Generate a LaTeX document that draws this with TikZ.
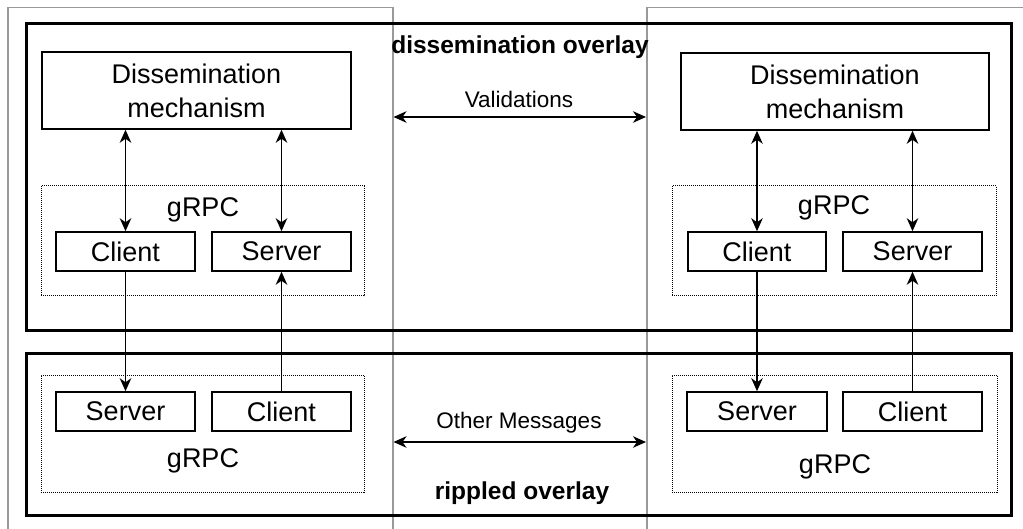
\documentclass[tikz,border=0pt]{standalone}
\usepackage{fontspec}
\setmainfont{Liberation Sans}
\usetikzlibrary{arrows.meta,calc}
\begin{document}
\begin{tikzpicture}[x=1pt,y=-1pt,
  tip/.tip={Stealth[length=13pt,width=11.5pt,inset=4pt]},
  box/.style={draw, line width=1.5pt, inner sep=0pt, align=center,
    font=\fontsize{27}{34}\selectfont},
  grpcbox/.style={draw, line width=1pt, dash pattern=on 1pt off 1pt, inner sep=0pt},
  layerbox/.style={draw, line width=3pt, inner sep=0pt, anchor=north west},
  peer/.style={draw=black!40, line width=1.5pt, inner sep=0pt, anchor=north west},
  big/.style={font=\fontsize{27}{34}\selectfont, inner sep=0pt},
  caption/.style={font=\bfseries\fontsize{24.5}{29}\selectfont, inner sep=0pt},
  msg/.style={font=\fontsize{22.5}{27}\selectfont, inner sep=0pt},
  link/.style={line width=1.5pt, -tip},
  duplex/.style={line width=1.5pt, tip-tip},
  endpoint/.style={box, minimum width=139pt, minimum height=39pt},
]
\useasboundingbox (0,0) rectangle (1023,529);

% the two peers
\node[peer, minimum width=385pt, minimum height=560pt] (peerA) at (7,7) {};
\node[peer, minimum width=420pt, minimum height=560pt] (peerB) at (646,7) {};

% the two overlays
\node[layerbox, minimum width=985pt, minimum height=307pt] (dissLayer) at (25,22) {};
\node[layerbox, minimum width=985pt, minimum height=162pt] (rippleLayer) at (25,352) {};
\node[caption] (dissCap) at (520,47) {dissemination overlay};
\node[caption] (rippleCap) at (522,493) {rippled overlay};

% peer A, dissemination overlay
\node[box, minimum width=309pt, minimum height=77pt] (mechA) at (196.5,90.5) {Dissemination\\mechanism};
\node[grpcbox, minimum width=323pt, minimum height=110pt] (grpcA) at (202.5,241) {};
\node[big] (grpcLabA) at (203,210) {gRPC};
\node[endpoint] (clientA) at (125.5,251.5) {Client};
\node[endpoint] (serverA) at (281.5,251.5) {Server};

% peer A, rippled overlay
\node[grpcbox, minimum width=323pt, minimum height=117pt] (grpcA2) at (202.5,433.5) {};
\node[big] (grpcLabA2) at (203,461) {gRPC};
\node[endpoint] (serverA2) at (125.5,411.5) {Server};
\node[endpoint] (clientA2) at (281.5,411.5) {Client};

% peer B, dissemination overlay
\node[box, minimum width=308pt, minimum height=77pt] (mechB) at (835,91.5) {Dissemination\\mechanism};
\node[grpcbox, minimum width=324pt, minimum height=110pt] (grpcB) at (834,241) {};
\node[big] (grpcLabB) at (834,208) {gRPC};
\node[endpoint, minimum width=138pt] (clientB) at (757,251.5) {Client};
\node[endpoint] (serverB) at (912.5,251.5) {Server};

% peer B, rippled overlay
\node[grpcbox, minimum width=325pt, minimum height=117pt] (grpcB2) at (834.5,433.5) {};
\node[big] (grpcLabB2) at (835,467) {gRPC};
\node[endpoint, minimum width=140pt] (serverB2) at (757,411.5) {Server};
\node[endpoint] (clientB2) at (912.5,411.5) {Client};

% links inside each peer
\draw[duplex] (mechA.south -| clientA) -- (clientA.north);
\draw[duplex] (mechA.south -| serverA) -- (serverA.north);
\draw[link] (clientA.south) -- (serverA2.north);
\draw[link] (clientA2.north) -- (serverA.south);

\draw[duplex] (mechB.south -| clientB) -- (clientB.north);
\draw[duplex] (mechB.south -| serverB) -- (serverB.north);
\draw[link] (clientB.south) -- (serverB2.north);
\draw[link] (clientB2.north) -- (serverB.south);

% messages between the peers
\path (peerA.north east) ++(0,110) coordinate (valL);
\path (peerB.north west) ++(0,110) coordinate (valR);
\draw[duplex] (valL) -- (valR);
\node[msg] (valText) at (519,99) {Validations};

\path (peerA.north east) ++(0,435) coordinate (othL);
\path (peerB.north west) ++(0,435) coordinate (othR);
\draw[duplex] (othL) -- (othR);
\node[msg] (othText) at (519,423) {Other Messages};
\end{tikzpicture}
\end{document}
